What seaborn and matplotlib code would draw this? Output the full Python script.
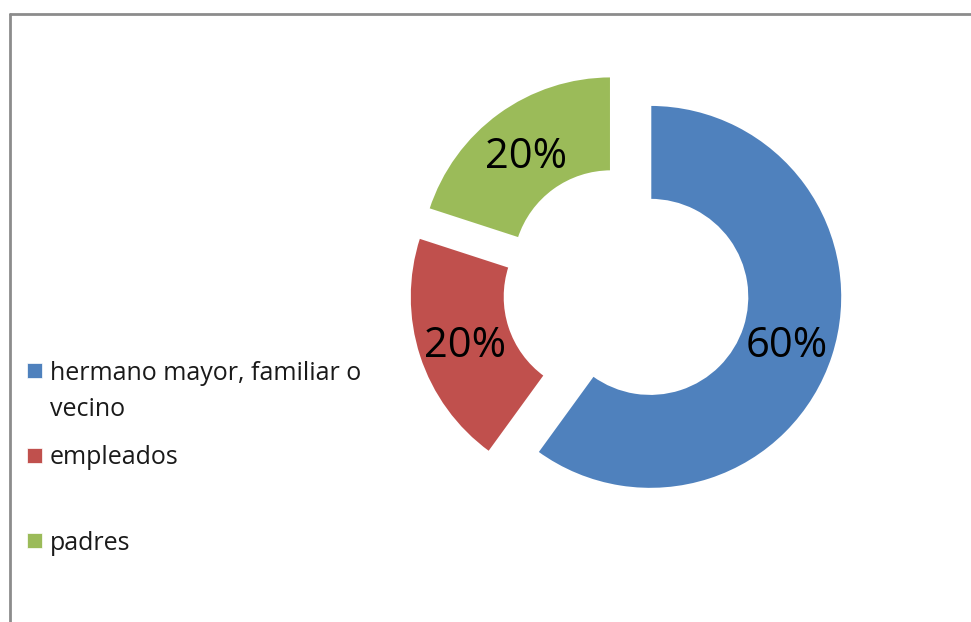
import matplotlib
matplotlib.use("Agg")
import matplotlib.pyplot as plt
import seaborn as sns
from matplotlib.patches import Rectangle
from matplotlib.lines import Line2D

categorias = ["hermano mayor, familiar o\nvecino", "empleados", "padres"]
porcentajes = [60, 20, 20]
colores = ["#4F81BD", "#C0504D", "#9BBB59"]

sns.set_style("white")
plt.rcParams["font.family"] = ["Open Sans", "DejaVu Sans"]

W, H = 971, 622
fig = plt.figure(figsize=(W / 100, H / 100), dpi=100)
ax = fig.add_axes([0, 0, 1, 1])

# marco gris (solo arriba e izquierda visibles)
fig.add_artist(Line2D([10 / W, 1], [1 - 14 / H, 1 - 14 / H], color="#8c8c8c", lw=2))
fig.add_artist(Line2D([10 / W, 10 / W], [0, 1 - 14 / H], color="#8c8c8c", lw=2))

# anillo con porciones separadas
wedges, texts, autotexts = ax.pie(
    porcentajes, colors=colores, startangle=90, counterclock=False,
    radius=192, center=(626, H - 289), explode=[25.5] * 3,
    autopct="%1.0f%%", pctdistance=0.75, frame=True,
    wedgeprops=dict(width=95, edgecolor="white", linewidth=1.5),
    textprops=dict(fontsize=30, color="black"))
for t in autotexts:
    t.set_va("center_baseline")
ax.set_xlim(0, W)
ax.set_ylim(0, H)
ax.set_aspect("equal")
ax.axis("off")

# leyenda
leg_y = [370, 455, 540]
for cat, col, y in zip(categorias, colores, leg_y):
    ax.add_patch(Rectangle((27, H - y - 7.5), 15, 15, facecolor=col,
                           edgecolor="white", lw=0.5))
    for k, ln in enumerate(cat.split("\n")):
        ax.text(50, H - y - k * 37, ln, fontsize=18, color="#1a1a1a",
                va="center_baseline", ha="left")

fig.savefig("out.png", dpi=100)
